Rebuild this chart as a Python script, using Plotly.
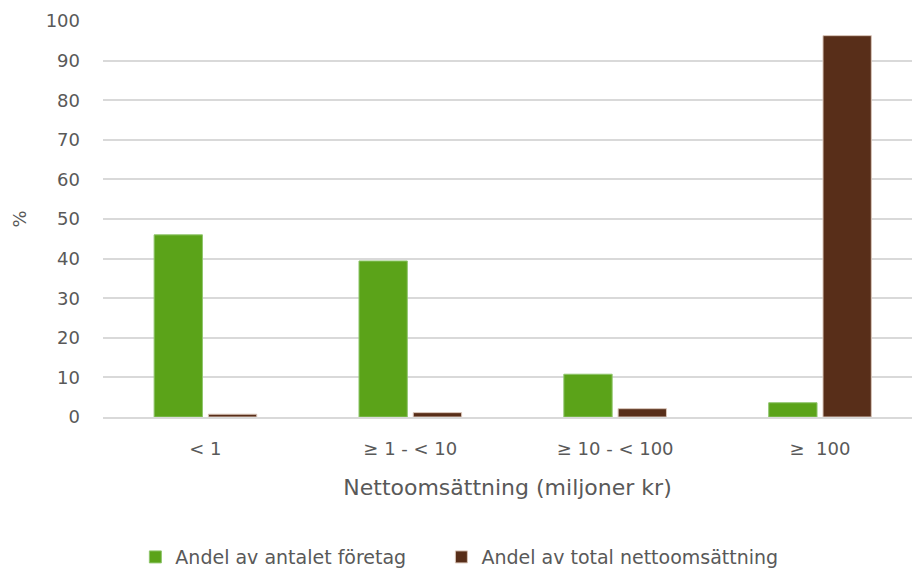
import plotly.graph_objects as go

# Revenue size classes (million SEK)
categories = ["< 1", "≥ 1 - < 10", "≥ 10 - < 100", "≥  100"]
share_companies = [46.0, 39.4, 10.8, 3.6]      # Andel av antalet företag (%)
share_turnover = [0.7, 1.1, 2.1, 96.3]         # Andel av total nettoomsättning (%)
y_ticks = [0, 10, 20, 30, 40, 50, 60, 70, 80, 90, 100]

FONT = "DejaVu Sans, sans-serif"
TEXT = "#595959"
GRID = "#d9d9d9"
PAD = "\u00a0" * 5  # extra room between the two legend entries

fig = go.Figure()
fig.add_trace(go.Bar(
    x=categories, y=share_companies, name="Andel av antalet företag" + PAD,
    marker=dict(color="#5ba319", line=dict(color="#8fc56c", width=1)),
))
fig.add_trace(go.Bar(
    x=categories, y=share_turnover, name="Andel av total nettoomsättning",
    marker=dict(color="#582e19", line=dict(color="#d8c4b8", width=1)),
))

fig.update_layout(
    width=912, height=569,
    margin=dict(l=103, r=0, t=21, b=152),
    plot_bgcolor="white", paper_bgcolor="white",
    font=dict(family=FONT, size=18, color=TEXT),
    barmode="group", bargap=0.47, bargroupgap=0.11,
    showlegend=True,
    legend=dict(orientation="h", xref="paper", x=0.04, xanchor="left",
                yref="container", y=0.021, yanchor="middle",
                font=dict(size=19, color=TEXT), itemwidth=30, traceorder="normal"),
    xaxis=dict(
        range=[-0.5, 3.449], showgrid=False, showline=True, linecolor=GRID, linewidth=2,
        ticks="", ticklabelstandoff=14, tickfont=dict(size=18, color=TEXT),
        title=dict(text="Nettoomsättning (miljoner kr)", font=dict(size=22, color=TEXT), standoff=22),
        automargin=False,
    ),
    yaxis=dict(
        range=[0, 100], tickvals=y_ticks, showgrid=True, gridcolor=GRID, gridwidth=2,
        zeroline=False, showline=False, ticks="", ticklabelstandoff=22,
        tickfont=dict(size=18, color=TEXT),
        title=dict(text="%", font=dict(size=18, color=TEXT), standoff=14),
        automargin=False,
    ),
)

fig.write_html("out.html")
